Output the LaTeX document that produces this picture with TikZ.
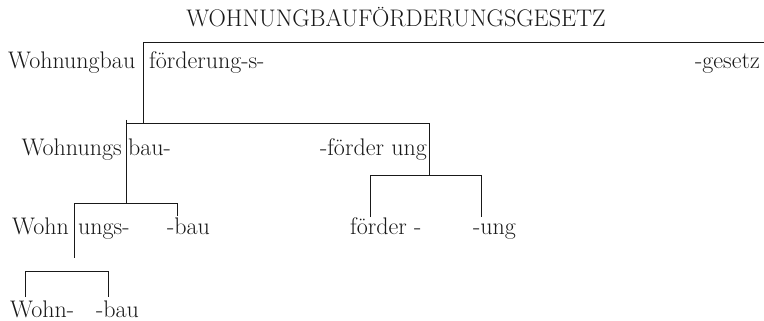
\documentclass[tikz,border=0pt]{standalone}
\definecolor{ink}{RGB}{25,25,25}
\begin{document}
\begin{tikzpicture}[x=1pt,y=-1pt,
  lbl/.style={inner sep=0pt, anchor=base west, font=\fontsize{24}{28}\selectfont, text=ink},
  tree/.style={line width=0.9pt, draw=ink}]
\useasboundingbox (0,0) rectangle (764,321);
% labels
\node[lbl, anchor=base] (title) at (396,27) {WOHNUNGBAUFÖRDERUNGSGESETZ};
\node[lbl] (wb) at (8,69) {Wohnungbau};
\node[lbl] (fs) at (149,69) {förderung-s-};
\node[lbl, anchor=base east] (ge) at (760,69) {-gesetz};
\node[lbl, anchor=base east] (wgs) at (122,156) {Wohnungs};
\node[lbl] (bau1) at (128,156) {bau-};
\node[lbl, anchor=base east] (fu) at (427,156) {-förder ung};
\node[lbl, anchor=base east] (wohn1) at (69,234) {Wohn};
\node[lbl] (ungs) at (78,234) {ungs-};
\node[lbl] (bau2) at (167,234) {-bau};
\node[lbl] (foerder) at (350,234) {förder -};
\node[lbl] (ung) at (473,234) {-ung};
\node[lbl] (wohn2) at (10,317) {Wohn-};
\node[lbl] (bau3) at (96,317) {-bau};
% junctions
\coordinate (j1r) at (764,42);
\coordinate (j1) at (143,42);
\coordinate (a1) at (143,123);
\coordinate (l2top) at (126,120);
\coordinate (l2l) at (126,123);
\coordinate (l2r) at (429,123);
\coordinate (l2lb) at (126,203);
\coordinate (l2rb) at (429,175);
\coordinate (l3l) at (74,203);
\coordinate (l3r) at (177,203);
\coordinate (l3rb) at (177,216);
\coordinate (l3lb) at (74,258);
\coordinate (l3bl) at (370,175);
\coordinate (l3br) at (481,175);
\coordinate (l3blb) at (370,217);
\coordinate (l3brb) at (481,217);
\coordinate (l4l) at (25,271);
\coordinate (l4r) at (108,271);
\coordinate (l4lb) at (25,297);
\coordinate (l4rb) at (108,297);
% connectors
\draw[tree] (j1r) -- (j1) -- (a1);
\draw[tree] (l2top) -- (l2lb);
\draw[tree] (l2l) -- (l2r) -- (l2rb);
\draw[tree] (l3rb) -- (l3r) -- (l3l) -- (l3lb);
\draw[tree] (l3blb) -- (l3bl) -- (l3br) -- (l3brb);
\draw[tree] (l4lb) -- (l4l) -- (l4r) -- (l4rb);
\end{tikzpicture}
\end{document}
